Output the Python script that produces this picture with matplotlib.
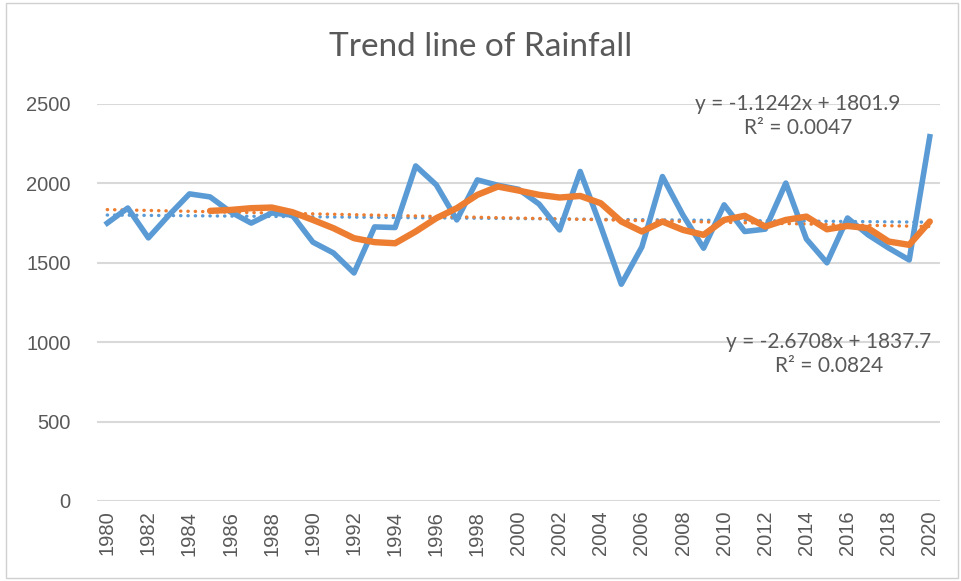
import numpy as np
import matplotlib.pyplot as plt
from matplotlib.patches import Rectangle

# rainfall data
years = list(range(1980, 2021))
rainfall = [1750, 1845, 1657, 1800, 1934, 1915, 1820, 1750, 1814, 1800,
            1630, 1562, 1436, 1726, 1722, 2110, 1991, 1770, 2022, 1988,
            1963, 1870, 1707, 2075, 1730, 1365, 1600, 2043, 1800, 1592,
            1865, 1697, 1712, 2002, 1650, 1500, 1782, 1676, 1593, 1518,
            2294]
# moving average series (starts in 1985)
ma_years = list(range(1985, 2021))
moving_avg = [1827, 1833, 1844, 1848, 1819, 1770, 1718, 1655, 1630, 1623,
              1697, 1781, 1844, 1928, 1980, 1955, 1928, 1911, 1921, 1875,
              1760, 1697, 1760, 1707, 1676, 1770, 1796, 1728, 1770, 1791,
              1711, 1732, 1718, 1634, 1613, 1760]
# linear trend lines (slope, intercept) as printed on the chart
blue_trend = (-1.1242, 1801.9)
orange_trend = (-2.6708, 1837.7)
blue_label = "y = -1.1242x + 1801.9\nR\u00b2 = 0.0047"
orange_label = "y = -2.6708x + 1837.7\nR\u00b2 = 0.0824"

blue = "#5b9bd5"
orange = "#ed7d31"
grey = "#595959"

fig = plt.figure(figsize=(9.61, 5.81), dpi=100)
ax = fig.add_axes([0.1009, 0.1377, 0.8773, 0.6833])

# light frame around the chart
fig.patches.append(Rectangle((6 / 961, 3 / 581), 952 / 961, 575 / 581,
                             transform=fig.transFigure, fill=False,
                             edgecolor="#d0d0d0", linewidth=1))

idx = np.arange(1, len(years) + 1)
ax.plot(years, blue_trend[0] * idx + blue_trend[1], color=blue,
        linestyle=(0, (0.1, 2.1)), linewidth=2.4, dash_capstyle="round")
ax.plot(years, orange_trend[0] * idx + orange_trend[1], color=orange,
        linestyle=(0, (0.1, 2.1)), linewidth=2.4, dash_capstyle="round")
ax.plot(years, rainfall, color=blue, linewidth=4.0, solid_joinstyle="round")
ax.plot(ma_years, moving_avg, color=orange, linewidth=4.6,
        solid_joinstyle="round", solid_capstyle="round")

ax.set_xlim(1979.5, 2020.5)
ax.set_ylim(0, 2500)
ax.set_yticks([0, 500, 1000, 1500, 2000, 2500])
ax.set_xticks(years[::2])
ax.set_xticklabels([str(y) for y in years[::2]], rotation=90)
ax.tick_params(length=0, labelsize=14.5, labelcolor=grey, pad=7)
ax.tick_params(axis="y", pad=19)
ax.grid(axis="y", color="#d9d9d9", linewidth=1.5)
ax.set_axisbelow(True)
for s in ax.spines.values():
    s.set_visible(False)
for lbl in ax.get_xticklabels() + ax.get_yticklabels():
    lbl.set_family("Liberation Sans")

fig.text(0.5, 1 - 47 / 581, "Trend line of Rainfall", ha="center", va="center",
         fontsize=24, color=grey, family="Lato")
fig.text(798 / 961, 1 - 116 / 581, blue_label, ha="center", va="center",
         fontsize=15, color=grey, family="Lato", linespacing=1.3)
fig.text(829 / 961, 1 - 354 / 581, orange_label, ha="center", va="center",
         fontsize=15, color=grey, family="Lato", linespacing=1.3)

fig.savefig("out.png", dpi=100)
